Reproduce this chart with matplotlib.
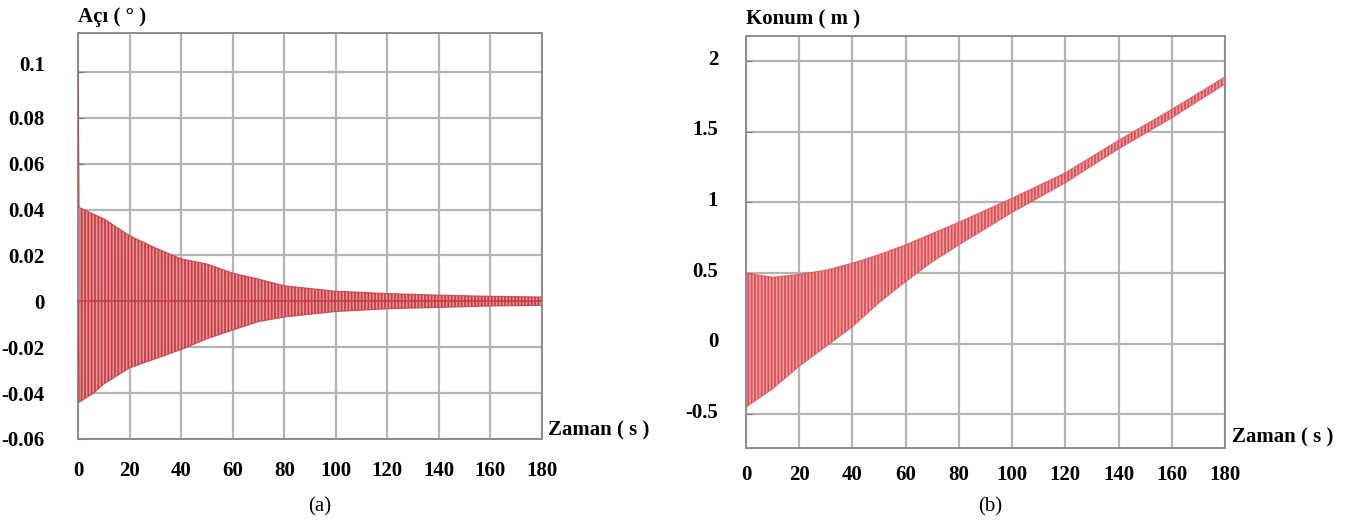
import matplotlib
matplotlib.use("Agg")
import matplotlib.pyplot as plt
import matplotlib.transforms as mtransforms

# ---- data ----
t_a = [0, 0.4, 6, 10, 20, 30, 40, 50, 60, 70, 80, 100, 120, 140, 160, 180]
upper_a = [0.1, 0.041, 0.038, 0.036, 0.0286, 0.0233, 0.0185, 0.0163, 0.0123, 0.0097,
           0.0068, 0.0044, 0.0034, 0.0027, 0.0022, 0.0019]
lower_a = [0.0, -0.044, -0.040, -0.036, -0.029, -0.025, -0.021, -0.0163, -0.0125, -0.0088,
           -0.0068, -0.0044, -0.0032, -0.0026, -0.0020, -0.0017]
center_a = [0.0] * len(t_a)

t_b = [0, 10, 20, 30, 40, 50, 60, 70, 80, 100, 120, 140, 160, 180]
upper_b = [0.5, 0.47, 0.49, 0.52, 0.57, 0.63, 0.70, 0.78, 0.86, 1.03, 1.21, 1.44, 1.66, 1.89]
lower_b = [-0.45, -0.32, -0.16, -0.02, 0.12, 0.29, 0.44, 0.58, 0.70, 0.93, 1.14, 1.38, 1.60, 1.84]

xticks = [0, 20, 40, 60, 80, 100, 120, 140, 160, 180]
yticks_a = [-0.06, -0.04, -0.02, 0, 0.02, 0.04, 0.06, 0.08, 0.1]
yticklabels_a = ["-0.06", "-0.04", "-0.02", "0", "0.02", "0.04", "0.06", "0.08", "0.1"]
yticks_b = [-0.5, 0, 0.5, 1, 1.5, 2]
yticklabels_b = ["-0.5", "0", "0.5", "1", "1.5", "2"]

W, H = 1349, 522
fig = plt.figure(figsize=(W / 100, H / 100), dpi=100)
plt.rcParams['hatch.linewidth'] = 1.3

serif = ["Liberation Serif", "DejaVu Serif"]
fs = 15
grid_c = "#b4b4b4"
frame_c = "#8c8c8c"


def px_axes(l, t, r, b):
    return fig.add_axes([l / W, 1 - b / H, (r - l) / W, (b - t) / H])


def style(ax, pad_y, pad_x):
    ax.set_xlim(0, 180)
    ax.set_xticks(xticks)
    ax.set_xticklabels([str(v) for v in xticks], fontfamily=serif, fontweight="bold", fontsize=fs)
    ax.grid(True, color=grid_c, linewidth=1.6)
    ax.set_axisbelow(True)
    for s in ax.spines.values():
        s.set_color(frame_c)
        s.set_linewidth(1.4)
    ax.tick_params(axis="y", direction="in", length=4, color="#777777", pad=pad_y)
    ax.tick_params(axis="x", direction="in", length=0, pad=pad_x)


# ---- panel (a) ----
ax1 = px_axes(78, 33, 542, 439)
ax1.set_ylim(-0.06, 0.117)
ax1.set_yticks(yticks_a)
ax1.set_yticklabels(yticklabels_a, fontfamily=serif, fontweight="bold", fontsize=fs)
style(ax1, 24, 16)
red_a = "#c93c45"
ax1.fill_between(t_a, lower_a, upper_a, facecolor="#e29a9d", edgecolor=red_a,
                 hatch="|||||", linewidth=0, zorder=2)
ax1.plot(t_a, upper_a, color=red_a, linewidth=0.9, alpha=0.8, zorder=3)
ax1.plot(t_a, lower_a, color=red_a, linewidth=0.9, alpha=0.8, zorder=3)
ax1.plot(t_a, center_a, color=red_a, linewidth=1.2, zorder=3)
# the "0.1" label sits a little above its grid line in the reference
lab01 = ax1.get_yticklabels()[-1]
lab01.set_transform(lab01.get_transform() + mtransforms.ScaledTranslation(0, 8 / 100, fig.dpi_scale_trans))
ax1.text(0, 1.015, "Açı ( ° )", transform=ax1.transAxes, fontfamily=serif, fontweight="bold",
         fontsize=fs, ha="left", va="bottom")
ax1.text(1.012, 0.02, "Zaman ( s )", transform=ax1.transAxes, fontfamily=serif, fontweight="bold",
         fontsize=fs, ha="left", va="center")
fig.text(320 / W, 1 - 507 / H, "(a)", fontfamily=serif, fontsize=15, ha="center", va="center")

# ---- panel (b) ----
ax2 = px_axes(746, 36, 1225, 448)
ax2.set_ylim(-0.74, 2.18)
ax2.set_yticks(yticks_b)
ax2.set_yticklabels(yticklabels_b, fontfamily=serif, fontweight="bold", fontsize=fs)
style(ax2, 20, 12)
off = mtransforms.ScaledTranslation(0, 4 / 100, fig.dpi_scale_trans)
for lab in ax2.get_yticklabels():
    lab.set_transform(lab.get_transform() + off)
red_b = "#dc4e56"
ax2.fill_between(t_b, lower_b, upper_b, facecolor="#eea2a4", edgecolor=red_b,
                 hatch="|||||", linewidth=0, zorder=2)
ax2.plot(t_b, upper_b, color=red_b, linewidth=0.9, alpha=0.7, zorder=3)
ax2.plot(t_b, lower_b, color=red_b, linewidth=0.9, alpha=0.7, zorder=3)
ax2.text(0, 1.015, "Konum ( m )", transform=ax2.transAxes, fontfamily=serif, fontweight="bold",
         fontsize=fs, ha="left", va="bottom")
ax2.text(1.015, 0.025, "Zaman ( s )", transform=ax2.transAxes, fontfamily=serif, fontweight="bold",
         fontsize=fs, ha="left", va="center")
fig.text(990 / W, 1 - 507 / H, "(b)", fontfamily=serif, fontsize=15, ha="center", va="center")

fig.savefig("out.png", dpi=100)
